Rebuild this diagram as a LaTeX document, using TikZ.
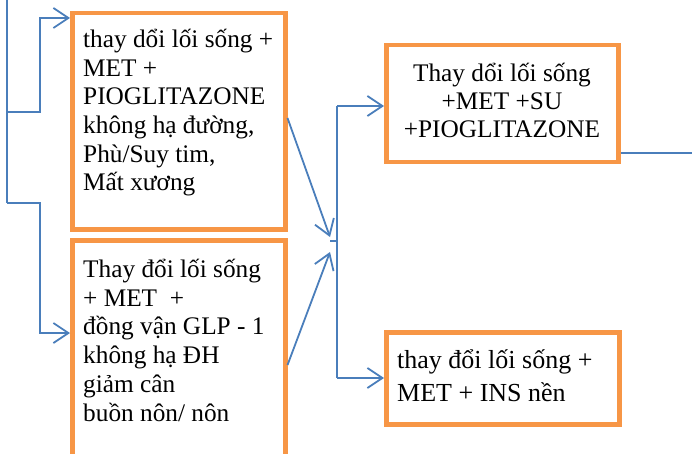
\documentclass[tikz,border=0pt]{standalone}
\usepackage{fontspec}
\setmainfont{Liberation Serif}
\usetikzlibrary{arrows.meta}
\definecolor{boxorange}{HTML}{F79646}
\definecolor{lineblue}{HTML}{4A7EBB}
\begin{document}
\begin{tikzpicture}[x=1pt,y=-1pt,
  box/.style={draw=boxorange, line width=4.5pt, rectangle, anchor=north west, inner sep=0pt},
  conn/.style={draw=lineblue, line width=1.8pt},
  arr/.style={conn, -{Straight Barb[length=15pt,width=20pt,line width=1.8pt]}},
  txt/.style={inner sep=0pt, font=\fontsize{25.3}{28.7}\selectfont},
  txtd/.style={inner sep=0pt, font=\fontsize{26}{33}\selectfont}]
\useasboundingbox (0,0) rectangle (692,454);
\clip (0,0) rectangle (692,454);
% boxes
\node[box, minimum width=213pt, minimum height=216pt] (boxA) at (70,11) {};
\node[box, minimum width=213pt, minimum height=240pt] (boxB) at (70,238) {};
\node[box, minimum width=232pt, minimum height=117pt] (boxC) at (384,43) {};
\node[box, minimum width=233pt, minimum height=92pt] (boxD) at (384,330) {};
% texts (base anchor = baseline of the last line)
\node[txt, anchor=base west, align=left] (tA) at (83,191) {thay dổi lối sống +\\MET +\\PIOGLITAZONE\\không hạ đường,\\Phù/Suy tim,\\Mất xương};
\node[txt, anchor=base west, align=left] (tB) at (83,421) {Thay đổi lối sống\\+ MET~~+\\đồng vận GLP - 1\\không hạ ĐH\\giảm cân\\buồn nôn/ nôn};
\node[txt, font=\fontsize{25.3}{28}\selectfont, anchor=base, align=center] (tC) at (502,138) {Thay dổi lối sống\\+MET +SU\\+PIOGLITAZONE};
\node[txtd, anchor=base west, align=left] (tD) at (397,401) {thay đổi lối sống +\\MET + INS nền};
% left connectors
\coordinate (ltop) at (7,-5);
\coordinate (lj1) at (7,112);
\coordinate (lj2) at (7,203);
\draw[conn] (ltop) -- (lj2);
\draw[arr] (lj1) -- ++(33,0) |- ([yshift=-7pt]boxA.north west);
\draw[arr] (lj2) -- ++(33,0) |- ([yshift=-95pt]boxB.north west);
% middle connectors
\coordinate (mA) at (330,237);
\coordinate (mB) at (330,252);
\coordinate (vtop) at (337,106);
\coordinate (vbot) at (337,378);
\coordinate (tick) at (330,241);
\draw[arr] ([yshift=-107pt]boxA.north east) -- (mA);
\draw[arr] ([yshift=-127pt]boxB.north east) -- (mB);
\draw[conn] (vtop) -- (vbot);
\draw[conn] (tick) -- (tick -| vtop);
\draw[arr] (vtop) -- (vtop -| boxC.west);
\draw[arr] (vbot) -- (vbot -| boxD.west);
% right connector
\coordinate (rend) at (694,153);
\draw[conn] (boxC.east |- rend) -- (rend);
\end{tikzpicture}
\end{document}
